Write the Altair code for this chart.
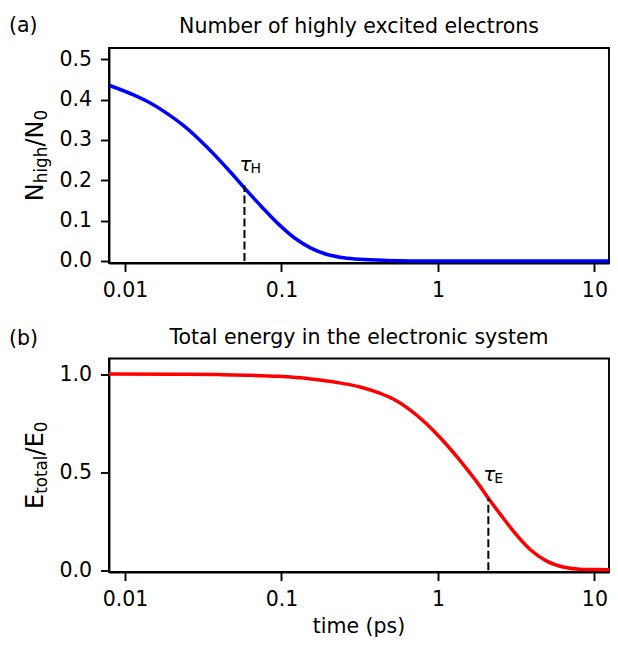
import altair as alt
import pandas as pd

# ---------------- data ----------------
# (a) number of highly excited electrons, N_high/N0 vs time (ps)
t_high = [0.00797, 0.01144, 0.0146, 0.01854, 0.0236, 0.030, 0.0486, 0.0589,
          0.0749, 0.0954, 0.1213, 0.1543, 0.196, 0.25, 0.318, 0.468, 1.0,
          3.0, 12.4]
n_high = [0.435, 0.411, 0.391, 0.366, 0.336, 0.300, 0.215, 0.178,
          0.134, 0.092, 0.057, 0.032, 0.016, 0.008, 0.004, 0.0015, 0.0,
          0.0, 0.0]

# (b) total energy in the electronic system, E_total/E0 vs time (ps)
t_energy = [0.0079, 0.02, 0.04, 0.0589, 0.0954, 0.154, 0.227, 0.318, 0.42,
            0.515, 0.65, 0.834, 1.01, 1.2, 1.349, 1.637, 1.80, 2.10, 2.5,
            3.06, 3.90, 4.96, 6.31, 8.03, 10.0, 12.4]
e_total = [1.0, 0.999, 0.997, 0.994, 0.988, 0.975, 0.957, 0.934, 0.904,
           0.874, 0.822, 0.750, 0.684, 0.618, 0.570, 0.486, 0.443, 0.367,
           0.286, 0.196, 0.105, 0.047, 0.017, 0.006, 0.004, 0.003]

# characteristic times and the curve value there
tau_h = [0.058]
tau_h_val = [0.1875]
tau_e = [2.10]
tau_e_val = [0.367]
tau_label_y = [0.224, 0.457]

x_ticks = [0.01, 0.1, 1, 10]
y_ticks_top = [0.0, 0.1, 0.2, 0.3, 0.4, 0.5]
y_ticks_bottom = [0.0, 0.5, 1.0]
x_domain = [0.0079, 12.4]
y_domain_top = [-0.005, 0.528]
y_domain_bottom = [-0.0085, 1.079]

title_top = "Number of highly excited electrons"
title_bottom = "Total energy in the electronic system"
x_title = "time (ps)"

# ---------------- styling ----------------
FONT = "DejaVu Sans"
FS = 20.5
SUB = 14
YFS = 24
YSUB = 16.8
W = 500
H1 = 215
H2 = 213.5
GAP = 95.5
LW = 1.9

ADV = {"N": 0.748, "h": 0.634, "i": 0.278, "g": 0.635, "/": 0.337, "0": 0.636,
       "E": 0.632, "t": 0.392, "o": 0.612, "a": 0.613, "l": 0.278}

one = pd.DataFrame({"k": [0]})


def txt(s, x, y, size=FS, align="left", angle=None, italic=False):
    kw = dict(text=s, font=FONT, fontSize=size, align=align,
              baseline="alphabetic", color="black")
    if angle is not None:
        kw["angle"] = angle
    if italic:
        kw["fontStyle"] = "italic"
    return alt.Chart(one).mark_text(**kw).encode(x=alt.value(x), y=alt.value(y))


def ylabel(pieces, center_y, base_x, sub_shift=4.0):
    total = sum(sum(ADV[c] for c in s) * sz for s, sz, _ in pieces)
    y = center_y + total / 2
    layers = []
    for s, sz, is_sub in pieces:
        layers.append(txt(s, base_x + (sub_shift if is_sub else 0), y,
                          size=sz, angle=270))
        y -= sum(ADV[c] for c in s) * sz
    return layers


def panel(t, v, color, ydom, yticks, H, tau, tau_val, tau_y, sub, title,
          tag, tag_y, ypieces, with_xtitle):
    df = pd.DataFrame({"t": t, "v": v})
    X = alt.X("t:Q", scale=alt.Scale(type="log", domain=x_domain, nice=False),
              axis=alt.Axis(values=x_ticks, format="~g", title=None))
    Y = alt.Y("v:Q", scale=alt.Scale(domain=ydom, nice=False, zero=False),
              axis=alt.Axis(values=yticks, format=".1f", title=None))
    line = alt.Chart(df).mark_line(color=color, strokeWidth=3.5,
                                   interpolate="monotone", clip=True).encode(x=X, y=Y)
    rdf = pd.DataFrame({"t": tau, "v0": [0.0], "v": tau_val})
    rule = alt.Chart(rdf).mark_rule(color="black", strokeWidth=2,
                                    strokeDash=[8, 3.5]).encode(
        x=X, y=alt.Y("v0:Q", scale=alt.Scale(domain=ydom, nice=False, zero=False),
                      axis=alt.Axis(values=yticks, format=".1f", title=None)),
        y2="v:Q")
    ldf = pd.DataFrame({"t": tau, "v": [tau_y]})
    tau_txt = alt.Chart(ldf).mark_text(text="τ", font=FONT, fontSize=20,
                                       fontStyle="italic", align="left",
                                       baseline="alphabetic", dx=-5,
                                       color="black").encode(x=X, y=Y)
    sub_txt = alt.Chart(ldf).mark_text(text=sub, font=FONT, fontSize=SUB,
                                       align="left", baseline="alphabetic",
                                       dx=6, dy=2.3, color="black").encode(x=X, y=Y)
    layers = [line, rule, tau_txt, sub_txt,
              txt(title, W / 2, -15, align="center"),
              txt(tag, -100, tag_y)]
    layers += ylabel(ypieces, H / 2, -66)
    if with_xtitle:
        layers.append(txt(x_title, W / 2, H + 61, align="center"))
    return alt.layer(*layers).properties(width=W, height=H)


top = panel(t_high, n_high, "#0000ff", y_domain_top, y_ticks_top, H1,
            tau_h, tau_h_val, tau_label_y[0], "H", title_top, "(a)", -16,
            [("N", YFS, False), ("high", YSUB, True), ("/", YFS, False),
             ("N", YFS, False), ("0", YSUB, True)], False)
bottom = panel(t_energy, e_total, "#ff0000", y_domain_bottom, y_ticks_bottom, H2,
               tau_e, tau_e_val, tau_label_y[1], "E", title_bottom, "(b)", -14,
               [("E", YFS, False), ("total", YSUB, True), ("/", YFS, False),
                ("E", YFS, False), ("0", YSUB, True)], True)

chart = alt.vconcat(top, bottom, spacing=GAP, bounds="flush").properties(
    padding={"left": 0, "top": 7, "right": 0, "bottom": 0}
).configure_view(
    stroke="black", strokeWidth=LW
).configure_axis(
    grid=False, domainColor="black", domainWidth=LW, tickColor="black",
    tickWidth=LW, tickSize=8.5, labelFont=FONT, labelFontSize=FS,
    labelColor="black", labelPadding=9
)

chart.save("out.html", embed_options={"renderer": "svg", "actions": False})
